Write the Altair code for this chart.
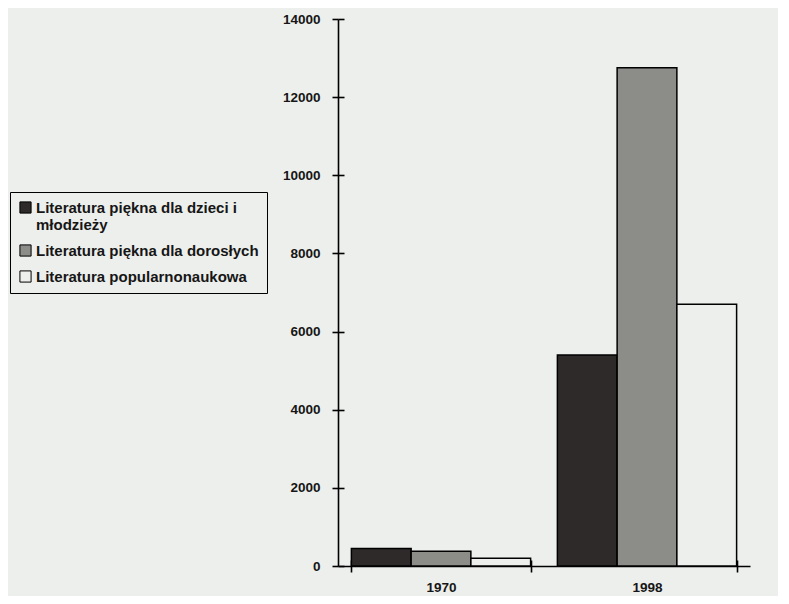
import altair as alt
import pandas as pd

years = ["1970", "1998"]
series = [
    "Literatura piękna dla dzieci i młodzieży",
    "Literatura piękna dla dorosłych",
    "Literatura popularnonaukowa",
]
values_1970 = [450, 380, 200]
values_1998 = [5400, 12750, 6700]
colors = ["#2e2a29", "#8c8c89", "#edefec"]
y_ticks = [0, 2000, 4000, 6000, 8000, 10000, 12000, 14000]
first_label_lines = ["Literatura piękna dla dzieci i", "młodzieży"]

rows = []
for s, v in zip(series, values_1970):
    rows.append({"rok": "1970", "seria": s, "wartosc": v})
for s, v in zip(series, values_1998):
    rows.append({"rok": "1998", "seria": s, "wartosc": v})
df = pd.DataFrame(rows)

BG = "#edefec"
FONT = "Liberation Sans"
TXT = "#161616"

xscale = alt.Scale(domain=years, paddingInner=0.13, paddingOuter=0.065)
yscale = alt.Scale(domain=[0, 14000], nice=False)

label_expr = (
    "datum.value == '" + series[0] + "' ? ['" + first_label_lines[0] + "', '"
    + first_label_lines[1] + "'] : datum.label"
)

bars = alt.Chart(df).mark_bar(stroke="black", strokeWidth=1.5).encode(
    x=alt.X("rok:N", scale=xscale, sort=years,
            axis=alt.Axis(title=None, labelAngle=0, tickBand="extent",
                          labelFont=FONT, labelFontWeight="bold", labelFontSize=13.5,
                          labelColor=TXT, labelPadding=8, tickSize=6,
                          tickColor="black", tickWidth=1.6, domainColor="black",
                          domainWidth=1.6)),
    xOffset=alt.XOffset("seria:N", sort=series, scale=alt.Scale(domain=series)),
    y=alt.Y("wartosc:Q", scale=yscale,
            axis=alt.Axis(title=None, values=y_ticks, grid=False, format="d",
                          labelFont=FONT, labelFontWeight="bold", labelFontSize=13.5,
                          labelColor=TXT, labelPadding=12, tickSize=6,
                          tickColor="black", tickWidth=1.6, domainColor="black",
                          domainWidth=1.6)),
    fill=alt.Fill("seria:N", sort=series,
                  scale=alt.Scale(domain=series, range=colors),
                  legend=alt.Legend(title=None, orient="none", legendX=-328, legendY=173,
                                    strokeColor="black", fillColor=BG, padding=8,
                                    labelFont=FONT, labelFontWeight="bold",
                                    labelFontSize=15, labelColor=TXT,
                                    labelLimit=400, labelExpr=label_expr,
                                    symbolType="square", symbolSize=125,
                                    symbolStrokeColor="black", symbolStrokeWidth=1,
                                    rowPadding=9, labelOffset=3)),
)

inner_ticks = alt.Chart(df).mark_bar(opacity=0).encode(
    x=alt.X("rok:N", scale=xscale, sort=years,
            axis=alt.Axis(title=None, orient="top", offset=-547, labels=False,
                          domain=False, tickBand="extent", tickSize=6,
                          tickColor="black", tickWidth=1.6)),
    y=alt.Y("wartosc:Q", scale=yscale,
            axis=alt.Axis(title=None, orient="right", offset=-412, labels=False,
                          domain=False, values=y_ticks, grid=False, tickSize=6,
                          tickColor="black", tickWidth=1.6)),
)

chart = alt.layer(bars, inner_ticks).resolve_axis(
    x="independent", y="independent"
).properties(
    width=412,
    height=547,
    background=BG,
    autosize=alt.AutoSizeParams(type="none"),
    padding={"left": 330, "top": 11, "right": 28, "bottom": 30},
).configure_view(stroke=None)

chart.save("out.html", embed_options={"renderer": "svg", "actions": False})
